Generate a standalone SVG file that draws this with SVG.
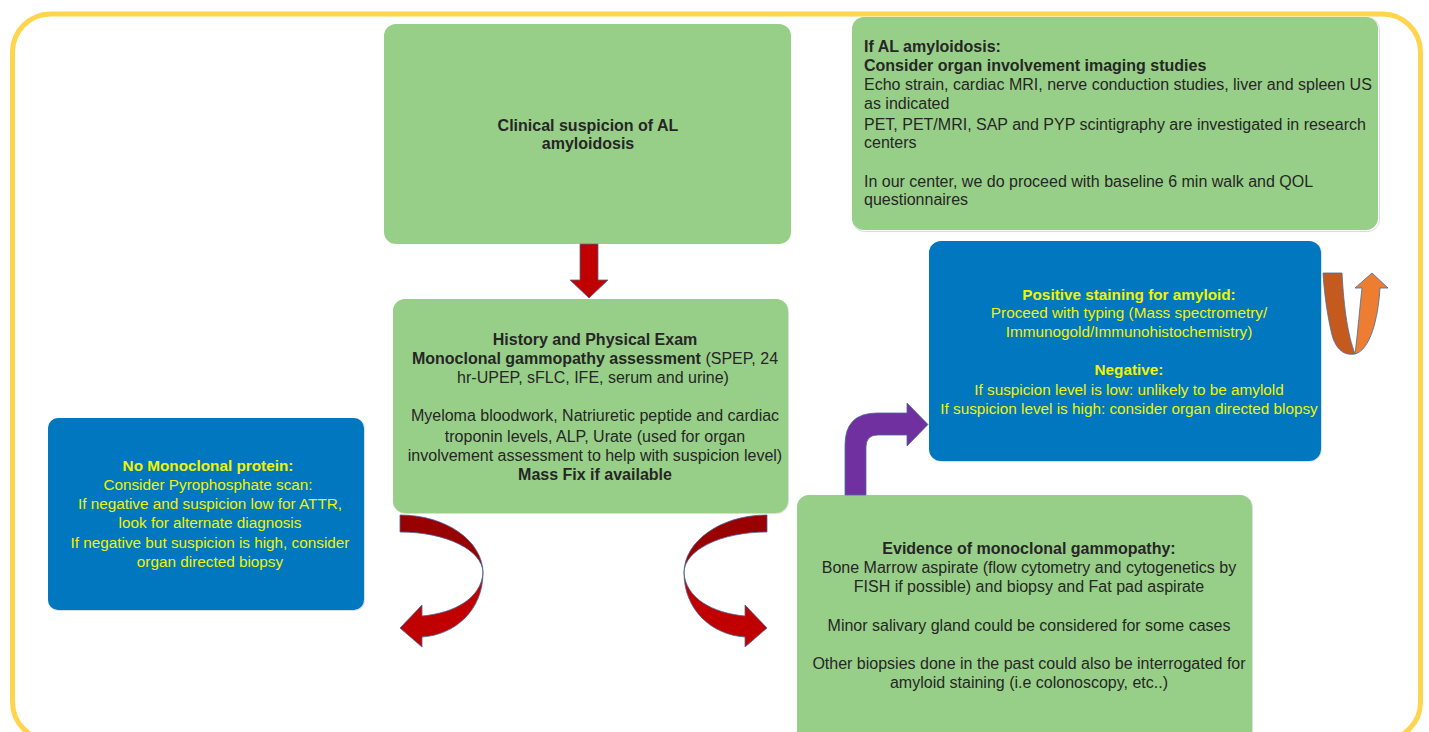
<svg xmlns="http://www.w3.org/2000/svg" width="1429" height="732" viewBox="0 0 1429 732">
<defs>
<style>
.g{fill:#98CF88}
.b{fill:#0077BF}
.sh{fill:none;stroke:#d9dde3;stroke-width:1}
text{font-family:"Liberation Sans",Arial,sans-serif;font-size:16px}
.dk{fill:#262626}
.yl{fill:#F2F200;font-size:15.3px}
.bd{font-weight:bold}
.arr{stroke:#4A6A9A;stroke-width:0.8}
</style>
</defs>
<rect width="1429" height="732" fill="#ffffff"/>
<rect x="12.5" y="14" width="1408" height="726" rx="38" ry="38" fill="none" stroke="#FFD54D" stroke-width="5"/>

<g id="node-clinical">
<rect x="384" y="24" width="407" height="220" rx="12" class="g"/>
<text x="588" y="131" text-anchor="middle" class="dk bd">Clinical suspicion of AL</text>
<text x="588" y="149" text-anchor="middle" class="dk bd">amyloidosis</text>
</g>

<g id="node-imaging">
<rect x="852.5" y="17.5" width="527" height="214" rx="12" class="sh"/>
<rect x="852" y="17" width="526" height="213" rx="12" class="g"/>
<text x="864" y="52" class="dk bd">If AL amyloidosis:</text>
<text x="864" y="71" class="dk bd">Consider organ involvement imaging studies</text>
<text x="864" y="90" class="dk">Echo strain, cardiac MRI, nerve conduction studies, liver and spleen US</text>
<text x="864" y="109" class="dk">as indicated</text>
<text x="864" y="130" class="dk">PET, PET/MRI, SAP and PYP scintigraphy are investigated in research</text>
<text x="864" y="148" class="dk">centers</text>
<text x="864" y="187" class="dk">In our center, we do proceed with baseline 6 min walk and QOL</text>
<text x="864" y="205" class="dk">questionnaires</text>
</g>

<g id="node-positive">
<rect x="929.5" y="241.5" width="392" height="220" rx="12" class="sh"/>
<rect x="929" y="241" width="392" height="220" rx="12" class="b"/>
<text x="1129" y="300" text-anchor="middle" class="yl bd">Positive staining for amyloid:</text>
<text x="1129" y="318" text-anchor="middle" class="yl">Proceed with typing (Mass spectrometry/</text>
<text x="1129" y="337" text-anchor="middle" class="yl">Immunogold/Immunohistochemistry)</text>
<text x="1129" y="375" text-anchor="middle" class="yl bd">Negative:</text>
<text x="1129" y="395" text-anchor="middle" class="yl">If suspicion level is low: unlikely to be amylold</text>
<text x="1129" y="414" text-anchor="middle" class="yl">If suspicion level is high: consider organ directed blopsy</text>
</g>

<g id="node-history">
<rect x="393.5" y="299.5" width="395" height="214" rx="12" class="sh"/>
<rect x="393" y="299" width="395" height="214" rx="12" class="g"/>
<text x="595" y="345" text-anchor="middle" class="dk bd">History and Physical Exam</text>
<text x="595" y="364" text-anchor="middle" class="dk"><tspan class="bd">Monoclonal gammopathy assessment</tspan> (SPEP, 24</text>
<text x="593" y="383" text-anchor="middle" class="dk">hr-UPEP, sFLC, IFE, serum and urine)</text>
<text x="595" y="421" text-anchor="middle" class="dk">Myeloma bloodwork, Natriuretic peptide and cardiac</text>
<text x="595" y="442" text-anchor="middle" class="dk">troponin levels, ALP, Urate (used for organ</text>
<text x="595" y="461" text-anchor="middle" class="dk">involvement assessment to help with suspicion level)</text>
<text x="595" y="480" text-anchor="middle" class="dk bd">Mass Fix if available</text>
</g>

<g id="node-nomono">
<rect x="48.5" y="418.5" width="316" height="192" rx="10" class="sh"/>
<rect x="48" y="418" width="316" height="192" rx="10" class="b"/>
<text x="208" y="471" text-anchor="middle" class="yl bd">No Monoclonal protein:</text>
<text x="208" y="490" text-anchor="middle" class="yl">Consider Pyrophosphate scan:</text>
<text x="210" y="509" text-anchor="middle" class="yl">If negative and suspicion low for ATTR,</text>
<text x="210" y="528" text-anchor="middle" class="yl">look for alternate diagnosis</text>
<text x="210" y="548" text-anchor="middle" class="yl">If negative but suspicion is high, consider</text>
<text x="210" y="567" text-anchor="middle" class="yl">organ directed biopsy</text>
</g>

<g id="node-evidence">
<rect x="797.5" y="495.5" width="455" height="250" rx="12" class="sh"/>
<rect x="797" y="495" width="455" height="250" rx="12" class="g"/>
<text x="1029" y="554" text-anchor="middle" class="dk bd">Evidence of monoclonal gammopathy:</text>
<text x="1029" y="573" text-anchor="middle" class="dk">Bone Marrow aspirate (flow cytometry and cytogenetics by</text>
<text x="1029" y="592" text-anchor="middle" class="dk">FISH if possible) and biopsy and Fat pad aspirate</text>
<text x="1029" y="631" text-anchor="middle" class="dk">Minor salivary gland could be considered for some cases</text>
<text x="1029" y="669" text-anchor="middle" class="dk">Other biopsies done in the past could also be interrogated for</text>
<text x="1029" y="688" text-anchor="middle" class="dk">amyloid staining (i.e colonoscopy, etc..)</text>
</g>

<g id="connectors">
<path class="arr" fill="#C00000" d="M580,244 L598,244 L598,280 L608,280 L589,298 L570,280 L580,280 Z"/>
<g id="curve-left">
<path class="arr" fill="#990000" d="M400,515 C446,515 483,541 483,573 C483,550 446,532 400,532 Z"/>
<path class="arr" fill="#C00000" d="M483,573 C483,610 455,635 422,637 L422,647 L400,628 L422,605 L422,616 C455,613 481,598 483,573 Z"/>
</g>
<g id="curve-right" transform="translate(1167,0) scale(-1,1)">
<path class="arr" fill="#990000" d="M400,515 C446,515 483,541 483,573 C483,550 446,532 400,532 Z"/>
<path class="arr" fill="#C00000" d="M483,573 C483,610 455,635 422,637 L422,647 L400,628 L422,605 L422,616 C455,613 481,598 483,573 Z"/>
</g>
<path class="arr" fill="#7030A0" d="M845,495 L845,445 Q845,413 877,413 L907,413 L907,403 L928,424.5 L907,446 L907,435 L878,435 Q866,435 866,447 L866,495 Z"/>
<g id="uturn">
<path class="arr" fill="#C55A1E" d="M1323,273 L1342,273 C1344,310 1348,335 1355,354 C1345,356 1336,350 1332,335 C1327,315 1324,290 1323,273 Z"/>
<path class="arr" fill="#ED7D31" d="M1355,354 C1358,330 1360,305 1362,288 L1355,288 L1372,273 L1388,288 L1380,288 C1378,320 1370,350 1355,354 Z"/>
</g>
</g>
</svg>
